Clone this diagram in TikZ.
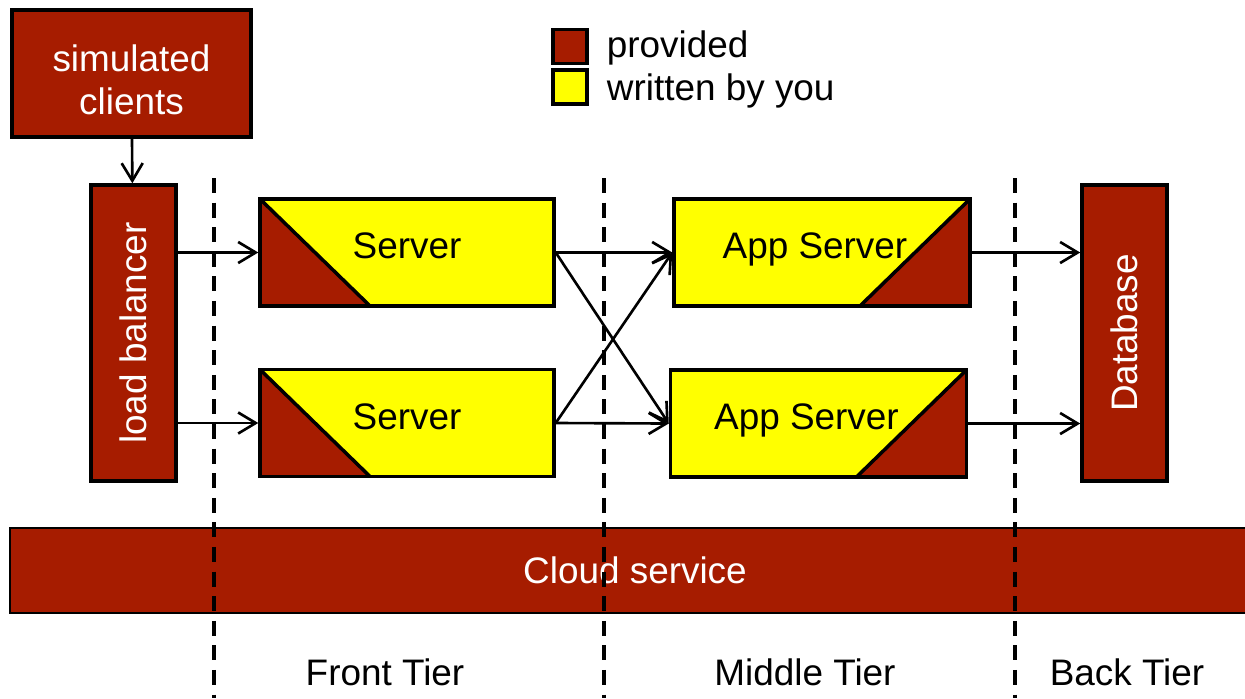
\documentclass[tikz,border=0pt]{standalone}
\usepackage{fontspec}
\setmainfont{Liberation Sans}
\usepackage{graphicx}
\usepackage{tikz}
\usetikzlibrary{positioning}
\usetikzlibrary{calc}
\usetikzlibrary{arrows.meta}
\definecolor{berry}{HTML}{A61C00}
\definecolor{ownyellow}{HTML}{FFFF00}
\tikzset{>={Straight Barb[length=10pt,width=12pt]}}
\tikzstyle{given} = [draw, line width=2pt, fill=berry, text=white,
align=center, font=\fontsize{21}{24.5}\selectfont]
\tikzstyle{line} = [draw, ->, line width=1.5pt]
\tikzstyle{tier} = [draw, dash pattern=on 8.5pt off 5.5pt, line width=1.8pt]

\begin{document}
\begin{tikzpicture}[x=0.02cm, y=-0.02cm,
font=\fontsize{21}{24.5}\selectfont,
server/.style={draw, line width=2pt, fill=ownyellow,
minimum width=5.88cm, minimum height=2.14cm, text depth=0.26cm,
path picture={
\fill[berry] (path picture bounding box.north west) --
(path picture bounding box.south west) --
([xshift=2.2cm]path picture bounding box.south west) -- cycle;
\draw[line width=2pt] (path picture bounding box.north west) --
([xshift=2.2cm]path picture bounding box.south west);}},
appserver/.style={draw, line width=2pt, fill=ownyellow,
minimum width=5.92cm, minimum height=2.14cm, text depth=0.26cm,
path picture={
\fill[berry] (path picture bounding box.north east) --
(path picture bounding box.south east) --
([xshift=-2.2cm]path picture bounding box.south east) -- cycle;
\draw[line width=2pt] (path picture bounding box.north east) --
([xshift=-2.2cm]path picture bounding box.south east);}},
keytext/.style={inner sep=0pt, anchor=base west}]
\useasboundingbox (0,0) rectangle (1245,698);

%% Cloud layer
\node [given, minimum width=25cm, minimum height=1.7cm, line width=1.2pt]
  (cloud) at (635,570.5) {Cloud service};
\foreach \x in {214,604,1015}
  \path [tier] (\x,178) -- (\x,698);

%% Legend
\node [given, minimum size=0.68cm, line width=1.8pt] (keyprov) at (570,46.5) {};
\node [draw, fill=ownyellow, minimum size=0.68cm, line width=1.8pt]
  (keyown) at (570,87) {};
\node [keytext] at ($(keyprov.east)+(18,10.5)$) {provided};
\node [keytext] at ($(keyown.east)+(18,13)$) {written by you};

%% Boxes
\node [given, minimum width=4.78cm, minimum height=2.54cm, text height=1.64cm]
  (clients) at (131.5,73.5) {simulated\\clients};
\node [given, minimum width=1.7cm, minimum height=5.92cm] (lb)
  at (133.5,333) {\rotatebox{90}{load balancer}};
\node [server] (s1) at (407,252.5) {Server};
\node [server] (s2) at (407,423) {Server};
\node [appserver] (a1) at (822,252.5) {App Server\hspace*{0.28cm}};
\node [appserver] (a2) at (818.5,423.5) {App Server\hspace*{0.48cm}};
\node [given, minimum width=1.7cm, minimum height=5.92cm] (db)
  at (1124.5,333) {\rotatebox{90}{Database}};

%% Tiers
\node (front) at (385,672) {Front Tier};
\node (middle) at (805,672) {Middle Tier};
\node (back) at (1127,672) {Back Tier};

%% Requests
\path [line] (clients) -- (lb);
\path [line] (lb.east |- s1) -- (s1.west);
\path [line] (lb.east |- s2) -- (s2.west);
\path [line] (s1.east) -- (a1.west);
\path [line] (s1.east) -- (a2.west);
\path [line] (s2.east) -- (a1.west);
\path [line] (s2.east) -- (a2.west);
\path [line] (a1.east) -- (db.west |- a1);
\path [line] (a2.east) -- (db.west |- a2);
\end{tikzpicture}
\end{document}
